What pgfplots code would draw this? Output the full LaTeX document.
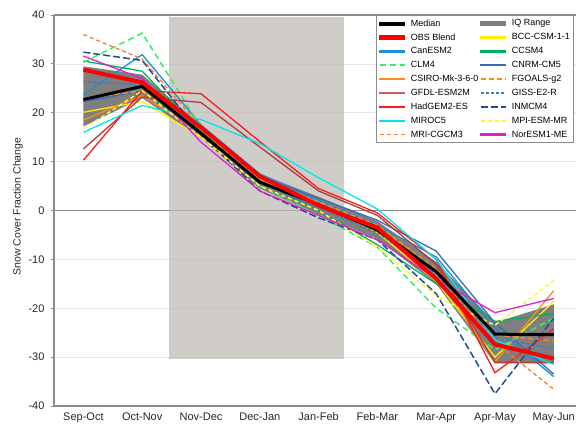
\documentclass[border=0pt]{standalone}
\usepackage{fontspec}
\setmainfont{Liberation Sans}
\usepackage{pgfplots}
\pgfplotsset{compat=1.18}
\definecolor{axisgray}{HTML}{8C8C8C}
\definecolor{gridgray}{HTML}{E6E6E6}
\definecolor{shade}{HTML}{BCB8B2}
\definecolor{iqgray}{HTML}{7F7F7F}
\definecolor{bccc}{HTML}{FFEE00}
\definecolor{canesmc}{HTML}{1B8FD2}
\definecolor{ccsmc}{HTML}{00B060}
\definecolor{clmc}{HTML}{33EE66}
\definecolor{cnrmc}{HTML}{3A6DB5}
\definecolor{csiroc}{HTML}{FF8C1A}
\definecolor{fgoalsc}{HTML}{FF8C1A}
\definecolor{gfdlc}{HTML}{B03A3A}
\definecolor{gfdll}{HTML}{C86060}
\definecolor{gissc}{HTML}{3A7CC4}
\definecolor{hadgemc}{HTML}{FF1A1A}
\definecolor{inmcmc}{HTML}{1F4F8F}
\definecolor{miroccol}{HTML}{00E6F0}
\definecolor{mpic}{HTML}{FFF533}
\definecolor{mric}{HTML}{F57F2A}
\definecolor{noresmc}{HTML}{E020C8}
\pgfplotsset{
  solidleg/.style 2 args={legend image code/.code={\fill[#1] (0pt,-#2) rectangle (25pt,#2);}},
}
\begin{document}
\begin{tikzpicture}
\begin{axis}[
  name=ax,
  scale only axis, width=522pt, height=391pt,
  xmin=-0.5, xmax=8.378, ymin=-40, ymax=40,
  axis x line*=bottom, axis y line*=left,
  axis line style={draw=axisgray, line width=1.3pt},
  xtick={0,...,8},
  xticklabels={Sep-Oct,Oct-Nov,Nov-Dec,Dec-Jan,Jan-Feb,Feb-Mar,Mar-Apr,Apr-May,May-Jun},
  ytick={-40,-30,-20,-10,10,20,30},
  extra y ticks={0,40}, extra y tick labels={0,40},
  extra y tick style={grid style={draw=axisgray, line width=1.3pt}},
  ymajorgrids=true, grid style={draw=gridgray, line width=0.7pt},
  tick align=outside, major tick length=3pt,
  ytick style={draw=axisgray, line width=0.8pt},
  xtick style={draw=none},
  tick label style={font=\fontsize{11}{13}\selectfont, text=black!85},
  yticklabel style={xshift=-3pt},
  /pgf/number format/assume math mode=true,
  ylabel={Snow Cover Fraction Change},
  ylabel style={at={(axis description cs:-0.069,0.51)}, anchor=center, font=\fontsize{10.5}{12}\selectfont, text=black!85},
  legend columns=2, legend cell align=left,
  legend image code/.code={\draw[#1] (0pt,0pt) -- (25pt,0pt);},
  legend style={at={(rel axis cs:0.996,1)}, anchor=north east, draw=axisgray, line width=1pt, fill=white,
    font=\fontsize{9}{10}\selectfont, nodes={inner sep=1.5pt}, row sep=3pt, inner xsep=2pt, inner ysep=2.5pt,
    /tikz/every even column/.append style={column sep=0pt},
    /tikz/every odd column/.append style={column sep=4pt}},
]
% shaded period (translucent so that the grid shows through)
\addplot[fill=shade, fill opacity=0.7, draw=none, forget plot]
  coordinates {(1.46,-30.3) (4.44,-30.3) (4.44,39.5) (1.46,39.5)} -- cycle;
% IQ range
\addplot[fill=iqgray, draw=none, forget plot] coordinates {
  (0,29.5) (1,27.8) (2,17.5) (3,7.5) (4,2.8) (5,-2.2) (6,-10.5) (7,-22.9) (8,-19.2)
  (8,-31.3) (7,-31.3) (6,-15.0) (5,-5.8) (4,-0.8) (3,4.5) (2,14.8) (1,23.0) (0,17.2)} -- cycle;
% models
\addplot[draw=bccc, line width=1.3pt, forget plot] coordinates {(0,20.1) (1,22.3) (2,15.0) (3,6.0) (4,1.5) (5,-4.5) (6,-14.5) (7,-30.0) (8,-18.6)};
\addplot[draw=canesmc, line width=1.3pt, forget plot] coordinates {(0,23.7) (1,31.9) (2,17.5) (3,7.5) (4,2.0) (5,-3.0) (6,-9.5) (7,-24.0) (8,-34.0)};
\addplot[draw=ccsmc, line width=1.3pt, forget plot] coordinates {(0,30.6) (1,28.5) (2,16.0) (3,6.0) (4,0.0) (5,-7.0) (6,-15.0) (7,-22.7) (8,-21.1)};
\addplot[draw=clmc, line width=1.5pt, dash pattern=on 6pt off 4pt, forget plot] coordinates {(0,30.3) (1,36.3) (2,17.0) (3,5.0) (4,-1.0) (5,-7.5) (6,-20.0) (7,-28.5) (8,-22.0)};
\addplot[draw=cnrmc, line width=1.3pt, forget plot] coordinates {(0,22.3) (1,24.5) (2,15.5) (3,7.0) (4,2.5) (5,-2.0) (6,-8.3) (7,-23.0) (8,-33.5)};
\addplot[draw=csiroc, line width=1.3pt, forget plot] coordinates {(0,18.5) (1,23.5) (2,16.0) (3,6.0) (4,1.0) (5,-3.5) (6,-13.0) (7,-31.0) (8,-16.4)};
\addplot[draw=fgoalsc, line width=1.3pt, dash pattern=on 5pt off 3pt, forget plot] coordinates {(0,22.9) (1,24.5) (2,16.5) (3,6.5) (4,1.8) (5,-3.0) (6,-12.0) (7,-25.5) (8,-26.7)};
\addplot[draw=gfdlc, line width=1.3pt, forget plot] coordinates {(0,12.6) (1,23.2) (2,22.1) (3,13.0) (4,4.0) (5,-1.0) (6,-11.0) (7,-31.1) (8,-31.1)};
\addplot[draw=gissc, line width=1.3pt, dash pattern=on 3pt off 2pt, forget plot] coordinates {(0,26.4) (1,25.7) (2,16.0) (3,5.5) (4,0.5) (5,-4.5) (6,-13.0) (7,-26.0) (8,-28.3)};
\addplot[draw=hadgemc, line width=1.3pt, forget plot] coordinates {(0,10.3) (1,24.5) (2,23.9) (3,14.1) (4,4.5) (5,-0.5) (6,-10.0) (7,-33.2) (8,-24.2)};
\addplot[draw=inmcmc, line width=1.5pt, dash pattern=on 7pt off 3pt, forget plot] coordinates {(0,32.4) (1,30.7) (2,15.5) (3,4.0) (4,-1.5) (5,-6.0) (6,-17.0) (7,-37.5) (8,-22.0)};
\addplot[draw=miroccol, line width=1.3pt, forget plot] coordinates {(0,16.0) (1,21.5) (2,18.6) (3,13.7) (4,6.7) (5,0.3) (6,-10.0) (7,-26.5) (8,-31.5)};
\addplot[draw=mpic, line width=1.5pt, dash pattern=on 4pt off 3pt, forget plot] coordinates {(0,16.7) (1,24.5) (2,15.0) (3,5.0) (4,0.0) (5,-7.5) (6,-17.5) (7,-23.5) (8,-14.3)};
\addplot[draw=mric, line width=1.3pt, dash pattern=on 4pt off 3pt, forget plot] coordinates {(0,36.0) (1,31.0) (2,17.0) (3,6.5) (4,1.5) (5,-3.5) (6,-12.5) (7,-27.0) (8,-36.6)};
\addplot[draw=noresmc, line width=1.3pt, forget plot] coordinates {(0,31.6) (1,27.0) (2,14.0) (3,4.0) (4,-1.0) (5,-6.0) (6,-14.0) (7,-20.9) (8,-18.0)};
% median and observations
\addplot[draw=black, line width=3pt, forget plot] coordinates {(0,22.7) (1,25.4) (2,15.8) (3,5.8) (4,1.2) (5,-4.0) (6,-12.5) (7,-25.3) (8,-25.4)};
\addplot[draw=red, line width=4pt, forget plot] coordinates {(0,28.8) (1,26.2) (2,17.0) (3,7.0) (4,1.0) (5,-3.5) (6,-14.0) (7,-27.4) (8,-30.3)};
% legend
\addlegendimage{solidleg={black}{1.5pt}} \addlegendentry{Median}
\addlegendimage{solidleg={iqgray}{2pt}} \addlegendentry{IQ Range}
\addlegendimage{solidleg={red}{2pt}} \addlegendentry{OBS Blend}
\addlegendimage{solidleg={bccc}{0.7pt}} \addlegendentry{BCC-CSM-1-1}
\addlegendimage{solidleg={canesmc}{0.7pt}} \addlegendentry{CanESM2}
\addlegendimage{solidleg={ccsmc}{0.7pt}} \addlegendentry{CCSM4}
\addlegendimage{draw=clmc, line width=1.6pt, dash pattern=on 6pt off 4pt} \addlegendentry{CLM4}
\addlegendimage{solidleg={cnrmc}{0.7pt}} \addlegendentry{CNRM-CM5}
\addlegendimage{solidleg={csiroc}{0.7pt}} \addlegendentry{CSIRO-Mk-3-6-0}
\addlegendimage{draw=fgoalsc, line width=1.6pt, dash pattern=on 5pt off 3pt} \addlegendentry{FGOALS-g2}
\addlegendimage{solidleg={gfdll}{0.7pt}} \addlegendentry{GFDL-ESM2M}
\addlegendimage{draw=gissc, line width=1.6pt, dash pattern=on 3pt off 2pt} \addlegendentry{GISS-E2-R}
\addlegendimage{solidleg={hadgemc}{0.7pt}} \addlegendentry{HadGEM2-ES}
\addlegendimage{draw=inmcmc, line width=1.6pt, dash pattern=on 7pt off 3pt} \addlegendentry{INMCM4}
\addlegendimage{solidleg={miroccol}{0.7pt}} \addlegendentry{MIROC5}
\addlegendimage{draw=mpic, line width=1.6pt, dash pattern=on 4pt off 3pt} \addlegendentry{MPI-ESM-MR}
\addlegendimage{draw=mric, line width=1.6pt, dash pattern=on 4pt off 3pt} \addlegendentry{MRI-CGCM3}
\addlegendimage{solidleg={noresmc}{0.7pt}} \addlegendentry{NorESM1-ME}
\end{axis}
\pgfresetboundingbox
\path[use as bounding box] ([shift={(-54pt,-21pt)}]ax.south west) rectangle ([shift={(0pt,15pt)}]ax.north east);
\end{tikzpicture}
\end{document}
